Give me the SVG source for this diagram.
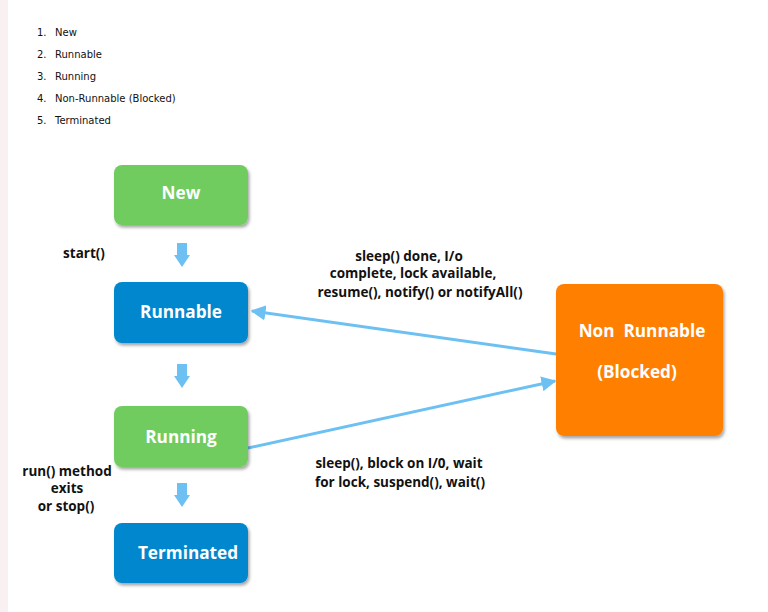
<svg xmlns="http://www.w3.org/2000/svg" width="768" height="612" viewBox="0 0 768 612">
<defs>
<filter id="sh" x="-20%" y="-20%" width="140%" height="140%">
<feDropShadow dx="1.5" dy="2.5" stdDeviation="1.8" flood-color="#000" flood-opacity="0.35"/>
</filter>
<marker id="ah" viewBox="0 0 10 10" refX="9" refY="5" markerWidth="5" markerHeight="5" markerUnits="strokeWidth" orient="auto">
<path d="M0,0 L10,5 L0,10 z" fill="#6cc0f2"/>
</marker>
</defs>
<style>
.list{font-family:"DejaVu Sans",Verdana,sans-serif;font-size:10px;fill:#111}
.lbl{font-family:"Open Sans",Lato,sans-serif;font-weight:bold;font-size:13.5px;fill:#111;text-anchor:middle}
.nt{font-family:"Open Sans",Lato,sans-serif;font-weight:bold;font-size:17.2px;fill:#fff;text-anchor:middle}
.green{fill:#70cc5f}
.blue{fill:#0087cd}
.orange{fill:#ff8000}
.edge{stroke:#6cc0f2;stroke-width:3;fill:none}
.varrow{fill:#6cc0f2}
</style>
<rect width="768" height="612" fill="#ffffff"/>
<rect width="8" height="612" fill="#f9f1f1"/>
<g id="list">
<text class="list" x="37" y="36">1.</text><text class="list" x="55" y="36">New</text>
<text class="list" x="37" y="58">2.</text><text class="list" x="55" y="58">Runnable</text>
<text class="list" x="37" y="80">3.</text><text class="list" x="55" y="80">Running</text>
<text class="list" x="37" y="102">4.</text><text class="list" x="55" y="102">Non-Runnable (Blocked)</text>
<text class="list" x="37" y="124">5.</text><text class="list" x="55" y="124">Terminated</text>
</g>
<g id="connectors">
<path class="varrow" d="M177,243 h10 v12 h3 l-8,12 l-8,-12 h3 z"/>
<path class="varrow" d="M177,364 h10 v12 h3 l-8,12 l-8,-12 h3 z"/>
<path class="varrow" d="M177,483 h10 v12 h3 l-8,12 l-8,-12 h3 z"/>
<line class="edge" x1="556" y1="354" x2="252" y2="311" marker-end="url(#ah)"/>
<line class="edge" x1="248" y1="448" x2="555" y2="381" marker-end="url(#ah)"/>
<text class="lbl" x="84" y="258">start()</text>
<text class="lbl" x="409" y="260.5">sleep() done, I/o</text>
<text class="lbl" x="413" y="278">complete, lock available,</text>
<text class="lbl" x="420" y="297">resume(), notify() or notifyAll()</text>
<text class="lbl" x="399" y="468">sleep(), block on I/0, wait</text>
<text class="lbl" x="400" y="487">for lock, suspend(), wait()</text>
<text class="lbl" x="67" y="476">run() method</text>
<text class="lbl" x="67" y="493">exits</text>
<text class="lbl" x="66" y="511">or stop()</text>
</g>
<g id="new">
<rect class="green" x="114" y="165" width="134" height="60" rx="8" filter="url(#sh)"/>
<text class="nt" x="181" y="199">New</text>
</g>
<g id="runnable">
<rect class="blue" x="114" y="282" width="134" height="61" rx="8" filter="url(#sh)"/>
<text class="nt" x="181" y="318">Runnable</text>
</g>
<g id="running">
<rect class="green" x="114" y="406" width="134" height="61" rx="8" filter="url(#sh)"/>
<text class="nt" x="181" y="443">Running</text>
</g>
<g id="terminated">
<rect class="blue" x="114" y="523" width="134" height="60" rx="8" filter="url(#sh)"/>
<text class="nt" x="188" y="559">Terminated</text>
</g>
<g id="nonrunnable">
<rect class="orange" x="556" y="284" width="167" height="152" rx="8" filter="url(#sh)"/>
<text class="nt" x="642" y="337" xml:space="preserve">Non  Runnable</text>
<text class="nt" x="637" y="378">(Blocked)</text>
</g>
</svg>
